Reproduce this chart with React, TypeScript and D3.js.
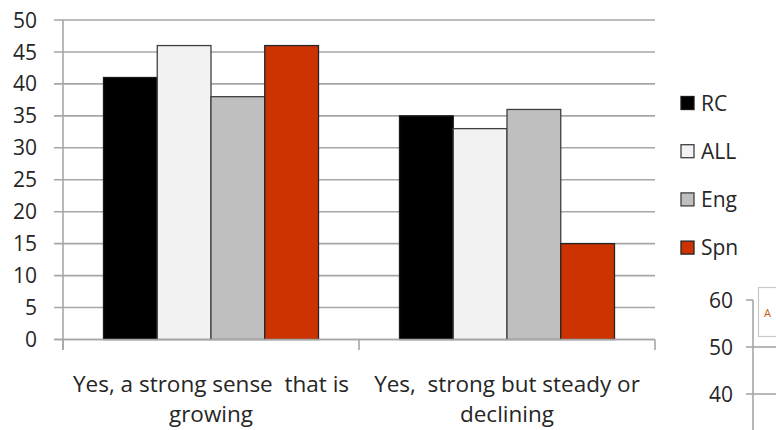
import React from "react";
import * as d3 from "d3";

const categories = ["Yes, a strong sense  that is|growing", "Yes,  strong but steady or|declining"];
const seriesNames = ["RC", "ALL", "Eng", "Spn"];
const rcValues = [41, 35];
const allValues = [46, 33];
const engValues = [38, 36];
const spnValues = [46, 15];
const yTicks = [0, 5, 10, 15, 20, 25, 30, 35, 40, 45, 50];
const sideTicks = [40, 50, 60];

const colors = ["#000000", "#f2f2f2", "#bfbfbf", "#cc3300"];
const strokes = ["#1a1a1a", "#404040", "#404040", "#262626"];
const FONT = "'Open Sans', Lato, sans-serif";
const TEXT = "#262626";
const FS = 21;
const FS_CAT = 22.5;

export default function App() {
  const values = [rcValues, allValues, engValues, spnValues];
  const left = 63, right = 655, top = 20, bottom = 339.5;
  const y = d3.scaleLinear().domain([0, 50]).range([bottom, top]);
  const x = d3.scaleBand<string>().domain(categories).range([left, right]).padding(0);
  const inner = d3
    .scaleBand<string>()
    .domain(seriesNames)
    .range([40.5, x.bandwidth() - 40.5])
    .padding(0);

  const y2 = d3.scaleLinear().domain([40, 60]).range([394, 300]);

  return (
    <svg
      width={776}
      height={430}
      style={{ position: "absolute", left: 0, top: 0, background: "#fff" }}
      fontFamily={FONT}
    >
      <rect x={0} y={0} width={776} height={430} fill="#fff" />
      {/* gridlines */}
      {yTicks.map((t) => (
        <line key={t} x1={54} x2={right} y1={y(t)} y2={y(t)} stroke="#a6a6a6" strokeWidth={1.6} />
      ))}
      {/* y tick labels */}
      {yTicks.map((t) => (
        <text key={"l" + t} x={37} y={y(t)} dy="0.36em" textAnchor="end" fontSize={FS} fill={TEXT}>
          {t}
        </text>
      ))}
      {/* bars */}
      {categories.map((c, ci) =>
        seriesNames.map((s, si) => (
          <rect
            key={c + s}
            x={(x(c) ?? 0) + (inner(s) ?? 0)}
            y={y(values[si][ci])}
            width={inner.bandwidth()}
            height={y(0) - y(values[si][ci])}
            fill={colors[si]}
            stroke={strokes[si]}
            strokeWidth={1.3}
          />
        ))
      )}
      {/* axes */}
      <line x1={left} x2={left} y1={top} y2={350} stroke="#a6a6a6" strokeWidth={1.6} />
      <line x1={54} x2={right} y1={bottom} y2={bottom} stroke="#a6a6a6" strokeWidth={1.6} />
      {[left, ...categories.map((c) => (x(c) ?? 0) + x.bandwidth())].map((px, i) => (
        <line key={"t" + i} x1={px} x2={px} y1={bottom} y2={350} stroke="#a6a6a6" strokeWidth={1.6} />
      ))}
      {/* category labels */}
      {categories.map((c) => {
        const lines = c.split("|");
        const cx = (x(c) ?? 0) + x.bandwidth() / 2;
        return (
          <text key={c} textAnchor="middle" fontSize={FS_CAT} fill={TEXT} style={{ whiteSpace: "pre" }}>
            {lines.map((ln, i) => (
              <tspan key={i} x={cx} y={392 + i * 30}>
                {ln}
              </tspan>
            ))}
          </text>
        );
      })}
      {/* legend */}
      {seriesNames.map((s, i) => {
        const cy = 103 + i * 48.2;
        return (
          <g key={s}>
            <rect x={681} y={cy - 6.5} width={13} height={13} fill={colors[i]} stroke={strokes[i]} strokeWidth={1.3} />
            <text x={701} y={cy} dy="0.36em" fontSize={FS} fill={TEXT}>
              {s}
            </text>
          </g>
        );
      })}
      {/* partial neighbouring chart */}
      {sideTicks.map((t) => (
        <g key={"s" + t}>
          <line x1={746} x2={t === 60 ? 753 : 776} y1={y2(t)} y2={y2(t)} stroke="#a6a6a6" strokeWidth={1.6} />
          <text x={733} y={y2(t)} dy="0.36em" textAnchor="end" fontSize={FS} fill={TEXT}>
            {t}
          </text>
        </g>
      ))}
      <line x1={753} x2={753} y1={300} y2={430} stroke="#a6a6a6" strokeWidth={1.6} />
      <rect x={758.5} y={287.5} width={30} height={49} fill="#fff" stroke="#c8c8c8" strokeWidth={1.2} />
      <text x={764} y={317} fontSize={11} fill="#c55a11">A</text>
    </svg>
  );
}
